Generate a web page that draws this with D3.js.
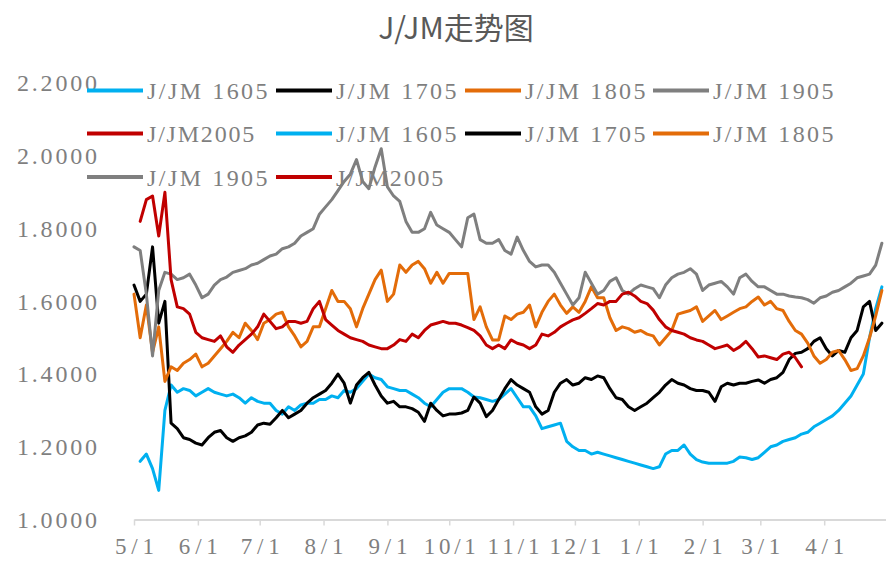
<!DOCTYPE html>
<meta charset="utf-8">
<head>
<script src="https://d3js.org/d3.v7.min.js"></script>
<style>
body { margin: 0; background: #fff; }
</style>
</head>
<body>
<script>
// one sample every 3 days, starting 5/1
startDate = new Date(2018, 4, 1)
endDate = new Date(2019, 4, 1)
stepDays = 3

xTickLabels = ["5/1", "6/1", "7/1", "8/1", "9/1", "10/1", "11/1", "12/1", "1/1", "2/1", "3/1", "4/1"]
yTicks = [1.0, 1.2, 1.4, 1.6, 1.8, 2.0, 2.2]

names = ["J/JM 1605", "J/JM 1705", "J/JM 1805", "J/JM 1905", "J/JM2005"]
colors = ["#00b0f0", "#000000", "#e36c09", "#7f7f7f", "#c00000"]

jjm1605 = [null, 1.16, 1.18, 1.14, 1.08, 1.30, 1.37, 1.35, 1.36, 1.355,
  1.34, 1.35, 1.36, 1.35, 1.345, 1.34, 1.345, 1.335, 1.32, 1.335,
  1.325, 1.32, 1.32, 1.30, 1.29, 1.31, 1.30, 1.315, 1.32, 1.32,
  1.33, 1.33, 1.34, 1.335, 1.355, 1.35, 1.36, 1.38, 1.40, 1.39,
  1.385, 1.365, 1.36, 1.355, 1.355, 1.345, 1.335, 1.32, 1.31, 1.33,
  1.35, 1.36, 1.36, 1.36, 1.35, 1.337, 1.335, 1.33, 1.325, 1.33,
  1.345, 1.36, 1.335, 1.31, 1.31, 1.285, 1.25, 1.255, 1.26, 1.265,
  1.215, 1.20, 1.19, 1.19, 1.18, 1.185, 1.18, 1.175, 1.17, 1.165,
  1.16, 1.155, 1.15, 1.145, 1.14, 1.145, 1.18, 1.19, 1.19, 1.205,
  1.18, 1.165, 1.158, 1.155, 1.155, 1.155, 1.155, 1.16, 1.172, 1.17,
  1.165, 1.17, 1.185, 1.20, 1.205, 1.215, 1.22, 1.225, 1.235, 1.24,
  1.255, 1.265, 1.275, 1.285, 1.30, 1.32, 1.34, 1.37, 1.40, 1.50,
  1.58, 1.64]

jjm1705 = [1.645, 1.60, 1.62, 1.75, 1.54, 1.60, 1.265, 1.25, 1.225, 1.22,
  1.21, 1.205, 1.225, 1.24, 1.245, 1.225, 1.215, 1.225, 1.23, 1.24,
  1.26, 1.265, 1.262, 1.28, 1.30, 1.28, 1.29, 1.30, 1.32, 1.335,
  1.345, 1.355, 1.375, 1.40, 1.375, 1.32, 1.37, 1.39, 1.405, 1.37,
  1.34, 1.32, 1.325, 1.31, 1.31, 1.305, 1.295, 1.27, 1.32, 1.30,
  1.285, 1.29, 1.29, 1.293, 1.30, 1.337, 1.32, 1.283, 1.30, 1.33,
  1.36, 1.385, 1.37, 1.36, 1.35, 1.31, 1.29, 1.30, 1.35, 1.375,
  1.385, 1.37, 1.375, 1.39, 1.385, 1.395, 1.39, 1.36, 1.335, 1.33,
  1.31, 1.30, 1.31, 1.32, 1.335, 1.35, 1.37, 1.385, 1.375, 1.37,
  1.36, 1.355, 1.355, 1.35, 1.325, 1.365, 1.375, 1.37, 1.375, 1.375,
  1.38, 1.384, 1.375, 1.385, 1.39, 1.405, 1.44, 1.457, 1.46, 1.47,
  1.49, 1.50, 1.47, 1.45, 1.465, 1.46, 1.50, 1.52, 1.585, 1.60,
  1.52, 1.54]

jjm1805 = [1.62, 1.50, 1.59, 1.46, 1.53, 1.38, 1.42, 1.41, 1.43, 1.44,
  1.455, 1.42, 1.43, 1.45, 1.47, 1.49, 1.515, 1.50, 1.54, 1.52,
  1.495, 1.54, 1.55, 1.565, 1.57, 1.53, 1.505, 1.475, 1.49, 1.53,
  1.53, 1.58, 1.63, 1.60, 1.60, 1.58, 1.53, 1.58, 1.62, 1.66,
  1.686, 1.60, 1.62, 1.70, 1.68, 1.70, 1.71, 1.69, 1.65, 1.68,
  1.65, 1.677, 1.677, 1.677, 1.677, 1.55, 1.585, 1.53, 1.494, 1.494,
  1.56, 1.55, 1.565, 1.57, 1.59, 1.53, 1.57, 1.60, 1.62, 1.59,
  1.567, 1.585, 1.57, 1.60, 1.64, 1.61, 1.61, 1.555, 1.52, 1.53,
  1.525, 1.515, 1.52, 1.51, 1.505, 1.48, 1.50, 1.52, 1.565, 1.57,
  1.575, 1.585, 1.545, 1.56, 1.575, 1.55, 1.56, 1.57, 1.58, 1.585,
  1.60, 1.612, 1.59, 1.60, 1.58, 1.575, 1.545, 1.52, 1.51, 1.485,
  1.45, 1.43, 1.44, 1.46, 1.465, 1.44, 1.41, 1.415, 1.45, 1.50,
  1.56, 1.63]

jjm1905 = [1.75, 1.74, 1.62, 1.45, 1.63, 1.68, 1.675, 1.66, 1.665, 1.675,
  1.645, 1.61, 1.62, 1.645, 1.66, 1.667, 1.68, 1.685, 1.69, 1.70,
  1.705, 1.715, 1.725, 1.73, 1.745, 1.75, 1.76, 1.78, 1.79, 1.80,
  1.84, 1.86, 1.88, 1.905, 1.93, 1.95, 1.99, 1.93, 1.91, 1.97,
  2.02, 1.915, 1.89, 1.875, 1.82, 1.79, 1.79, 1.80, 1.845, 1.81,
  1.80, 1.79, 1.77, 1.75, 1.83, 1.84, 1.77, 1.76, 1.76, 1.77,
  1.74, 1.73, 1.777, 1.74, 1.71, 1.695, 1.70, 1.70, 1.68, 1.65,
  1.62, 1.59, 1.61, 1.68, 1.65, 1.62, 1.63, 1.655, 1.665, 1.63,
  1.62, 1.635, 1.645, 1.64, 1.635, 1.61, 1.645, 1.665, 1.675, 1.68,
  1.69, 1.675, 1.63, 1.645, 1.65, 1.655, 1.64, 1.62, 1.665, 1.675,
  1.655, 1.64, 1.64, 1.63, 1.62, 1.62, 1.615, 1.612, 1.61, 1.605,
  1.595, 1.61, 1.615, 1.625, 1.63, 1.64, 1.65, 1.665, 1.67, 1.675,
  1.70, 1.76]

jjm2005 = [null, 1.82, 1.88, 1.89, 1.78, 1.90, 1.66, 1.585, 1.58, 1.565,
  1.515, 1.50, 1.495, 1.49, 1.505, 1.475, 1.46, 1.48, 1.495, 1.51,
  1.53, 1.565, 1.545, 1.525, 1.53, 1.545, 1.545, 1.54, 1.545, 1.58,
  1.60, 1.55, 1.535, 1.52, 1.51, 1.50, 1.495, 1.49, 1.48, 1.475,
  1.47, 1.47, 1.48, 1.495, 1.49, 1.51, 1.50, 1.52, 1.535, 1.54,
  1.545, 1.54, 1.54, 1.535, 1.528, 1.52, 1.505, 1.48, 1.47, 1.48,
  1.47, 1.494, 1.485, 1.48, 1.47, 1.48, 1.51, 1.505, 1.515, 1.53,
  1.54, 1.549, 1.555, 1.567, 1.58, 1.594, 1.59, 1.60, 1.60, 1.62,
  1.625, 1.615, 1.60, 1.594, 1.576, 1.55, 1.53, 1.52, 1.515, 1.51,
  1.50, 1.494, 1.49, 1.48, 1.47, 1.475, 1.48, 1.465, 1.475, 1.49,
  1.47, 1.447, 1.45, 1.445, 1.44, 1.455, 1.46, 1.445, 1.42]

seriesValues = [jjm1605, jjm1705, jjm1805, jjm1905, jjm2005]
legendNames = names.concat(names)

width = 886
height = 561
serif = "'Liberation Serif', 'DejaVu Serif', serif"
charW = 13.4

x = d3.scaleTime().domain([startDate, endDate]).range([134, 886])
y = d3.scaleLinear().domain([1.0, 2.2]).range([519.5, 83.3])

monthTicks = d3.timeMonth.range(startDate, endDate)

var svg = d3.select("body").append("svg")
  .attr("width", width)
  .attr("height", height)
  .attr("viewBox", [0, 0, width, height])

// title
svg.append("text")
  .attr("x", 456)
  .attr("y", 28)
  .attr("dy", "0.35em")
  .attr("text-anchor", "middle")
  .attr("fill", "#595959")
  .attr("font-family", "'Noto Sans CJK SC', sans-serif")
  .attr("font-size", 30)
  .text("J/JM走势图")

// y axis labels only
svg.append("g")
  .attr("transform", "translate(97,0)")
  .call(d3.axisLeft(y).tickValues(yTicks).tickSize(0).tickPadding(0).tickFormat(d3.format(".4f")))
  .call(g => g.select(".domain").remove())
  .call(g => g.selectAll("text")
    .attr("fill", "#7f7f7f")
    .attr("font-family", serif)
    .attr("font-size", 24)
    .attr("textLength", 80)
    .attr("lengthAdjust", "spacing"))

// x axis
svg.append("g")
  .attr("transform", `translate(0,${y(1.0)})`)
  .call(d3.axisBottom(x).tickValues(monthTicks).tickSize(6).tickSizeOuter(0).tickPadding(12)
    .tickFormat((d, i) => xTickLabels[i]))
  .call(g => g.select(".domain").attr("stroke", "#d9d9d9").attr("stroke-width", 2))
  .call(g => g.selectAll(".tick line").attr("stroke", "#d9d9d9").attr("stroke-width", 1.5))
  .call(g => g.selectAll("text")
    .attr("fill", "#7f7f7f")
    .attr("font-family", serif)
    .attr("font-size", 23)
    .attr("textLength", d => xTickLabels[monthTicks.indexOf(d)].length * 13)
    .attr("lengthAdjust", "spacing"))

// series lines
line = d3.line()
  .defined(d => d.v != null)
  .x(d => x(d.date))
  .y(d => y(d.v))

seriesValues.forEach((vals, k) => {
  var pts = vals.map((v, i) => ({date: d3.timeDay.offset(startDate, i * stepDays), v: v}))
  svg.append("path")
    .datum(pts)
    .attr("fill", "none")
    .attr("stroke", colors[k])
    .attr("stroke-width", 3)
    .attr("stroke-linejoin", "round")
    .attr("stroke-linecap", "round")
    .attr("d", line)
})

// legend (series listed twice, as in the source chart)
colX = [87, 276, 465, 653]
rowY = [90.5, 133.5, 177]

var legend = svg.selectAll(".legend")
  .data(legendNames)
  .join("g")
    .attr("class", "legend")
    .attr("transform", (d, i) => `translate(${colX[i % 4]},${rowY[Math.floor(i / 4)]})`)

legend.append("line")
  .attr("x1", 0)
  .attr("x2", 56)
  .attr("stroke", (d, i) => colors[i % 5])
  .attr("stroke-width", 4)

legend.append("text")
  .attr("x", 60)
  .attr("dy", "0.36em")
  .attr("fill", "#7f7f7f")
  .attr("font-family", serif)
  .attr("font-size", 24)
  .attr("textLength", d => d.length * charW)
  .attr("lengthAdjust", "spacing")
  .text(d => d)
</script>
</body>
